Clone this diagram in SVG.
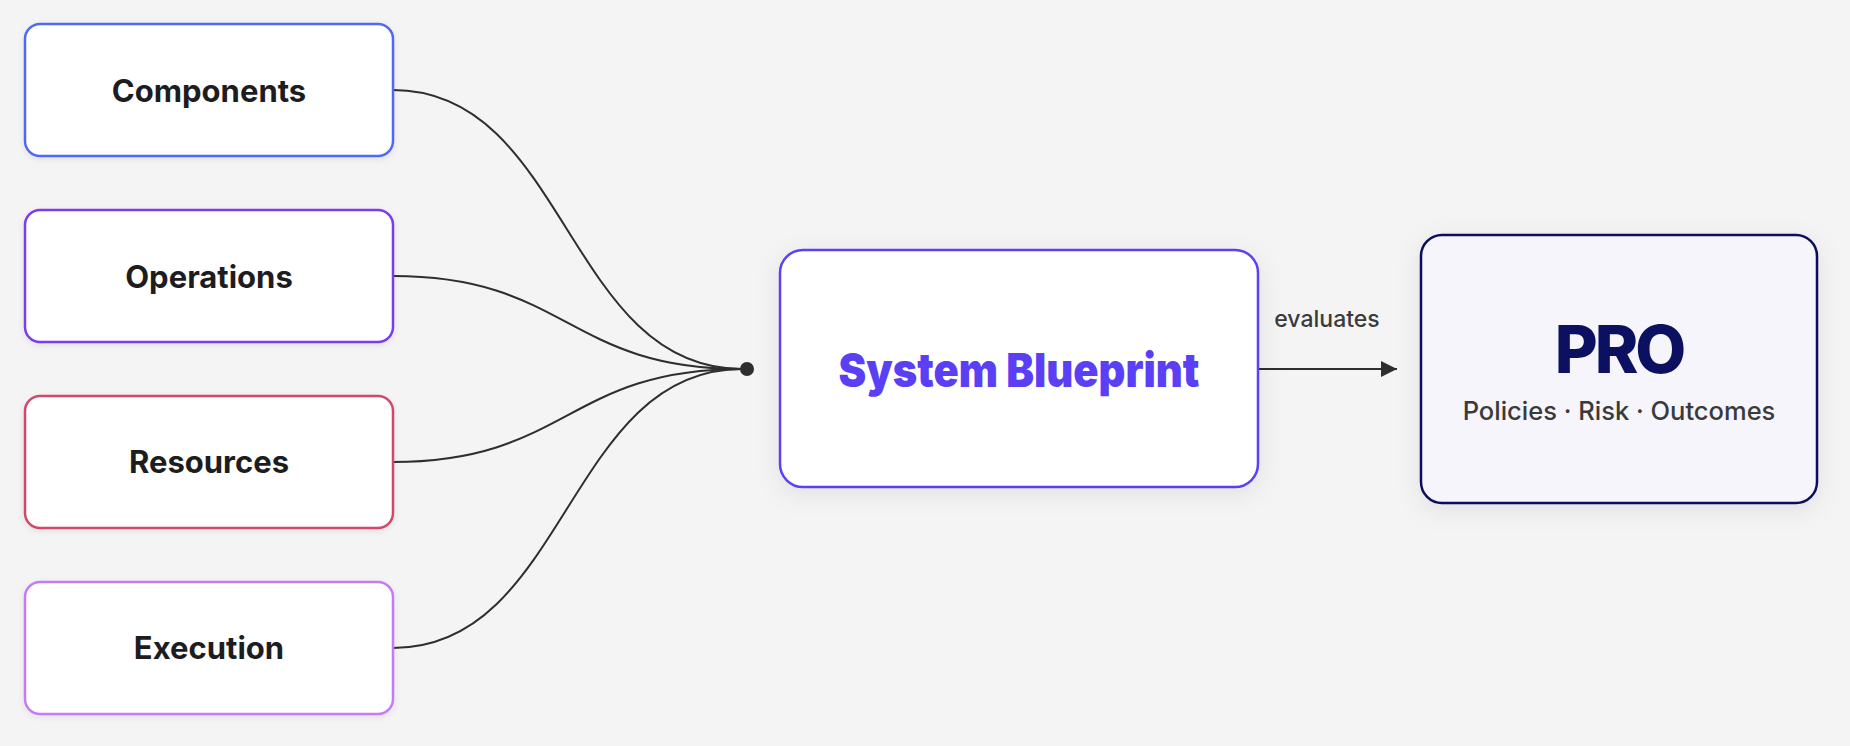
<svg xmlns="http://www.w3.org/2000/svg" width="1850" height="746" viewBox="0 0 1850 746">
  <style>
    .box { fill: #ffffff; stroke-width: 2.5; }
    .lbl { font-family: Inter, "Liberation Sans", sans-serif; font-weight: 700; font-size: 31px; fill: #1d1d1f; text-anchor: middle; }
    .conn { fill: none; stroke: #2e2e2e; stroke-width: 2; }
  </style>
  <defs>
    <filter id="sh" x="-20%" y="-20%" width="140%" height="150%">
      <feDropShadow dx="0" dy="2" stdDeviation="3" flood-color="#000" flood-opacity="0.08"/>
    </filter>
    <filter id="shl" x="-20%" y="-20%" width="140%" height="150%">
      <feDropShadow dx="0" dy="6" stdDeviation="12" flood-color="#000" flood-opacity="0.08"/>
    </filter>
    <marker id="arr" viewBox="0 0 10 10" refX="10" refY="5" markerWidth="16" markerHeight="16" markerUnits="userSpaceOnUse" orient="auto">
      <path d="M0,0 L10,5 L0,10 Z" fill="#2e2e2e"/>
    </marker>
  </defs>
  <rect width="1850" height="746" fill="#f4f4f4"/>

  <g id="connectors">
    <path class="conn" d="M393,90 C567,90 567,369 742,369"/>
    <path class="conn" d="M393,276 C567,276 567,369 742,369"/>
    <path class="conn" d="M393,462 C567,462 567,369 742,369"/>
    <path class="conn" d="M393,648 C567,648 567,369 742,369"/>
    <circle cx="747" cy="369" r="7" fill="#2e2e2e"/>
    <line class="conn" x1="1258" y1="369" x2="1397" y2="369" marker-end="url(#arr)"/>
    <text x="1327" y="327" font-family="Inter, 'Liberation Sans', sans-serif" font-size="23" font-weight="500" fill="#3a3a3a" text-anchor="middle">evaluates</text>
  </g>

  <g id="components">
    <rect class="box" x="25" y="24" width="368" height="132" rx="15" stroke="#5168f6" filter="url(#sh)"/>
    <text class="lbl" x="209" y="101.5">Components</text>
  </g>
  <g id="operations">
    <rect class="box" x="25" y="210" width="368" height="132" rx="15" stroke="#7c3aed" filter="url(#sh)"/>
    <text class="lbl" x="209" y="287.5">Operations</text>
  </g>
  <g id="resources">
    <rect class="box" x="25" y="396" width="368" height="132" rx="15" stroke="#d14a69" filter="url(#sh)"/>
    <text class="lbl" x="209" y="472.5">Resources</text>
  </g>
  <g id="execution">
    <rect class="box" x="25" y="582" width="368" height="132" rx="15" stroke="#c679f9" filter="url(#sh)"/>
    <text class="lbl" x="209" y="658.5">Execution</text>
  </g>

  <g id="system-blueprint">
    <rect x="780" y="250" width="478" height="237" rx="23" fill="#ffffff" stroke="#5b3ff5" stroke-width="2.5" filter="url(#shl)"/>
    <text x="1019" y="387" font-family="Inter, 'Liberation Sans', sans-serif" font-size="47" font-weight="900" fill="#5b3ff5" text-anchor="middle" textLength="361" lengthAdjust="spacingAndGlyphs">System Blueprint</text>
  </g>

  <g id="pro">
    <rect x="1421" y="235" width="396" height="268" rx="21" fill="#f5f5fb" stroke="#0b1160" stroke-width="2.5" filter="url(#shl)"/>
    <text x="1619" y="373" font-family="Inter, 'Liberation Sans', sans-serif" font-size="66" font-weight="800" fill="#0b1160" text-anchor="middle" letter-spacing="-3">PRO</text>
    <text x="1619" y="420" font-family="Inter, 'Liberation Sans', sans-serif" font-size="25.5" font-weight="500" fill="#3a3a3a" text-anchor="middle">Policies · Risk · Outcomes</text>
  </g>
</svg>
